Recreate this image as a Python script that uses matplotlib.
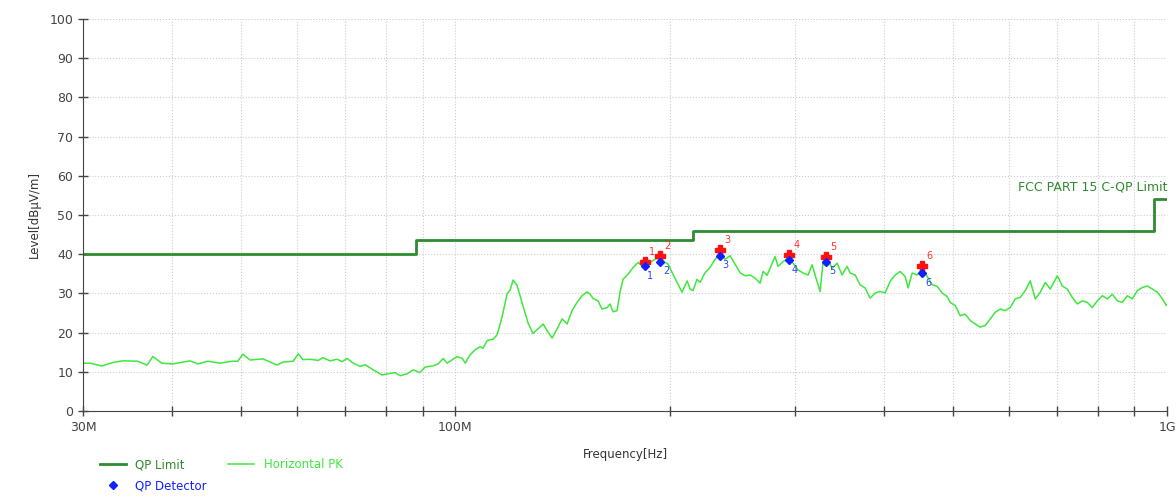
import numpy as np
import matplotlib
matplotlib.use("Agg")
import matplotlib.pyplot as plt

# QP limit (FCC Part 15 C), MHz / dBuV/m
limit_freq = [30, 88, 216, 960, 1000]
limit_level = [40, 43.5, 46, 54, 54]

# Horizontal PK trace
pk_freq = [30.0, 30.7, 31.9, 33.1, 34.1, 35.8, 36.9, 37.6, 38.7, 40.1,
           42.4, 43.5, 44.9, 46.7, 48.6, 49.5, 50.3, 51.5, 53.7, 56.2,
           57.3, 59.2, 60.2, 61.1, 62.5, 64.2, 65.2, 66.7, 68.2, 69.4,
           70.5, 71.9, 73.5, 74.7, 76.7, 78.9, 80.5, 82.3, 83.7, 85.6,
           87.3, 89.2, 90.7, 93.1, 94.6, 96.2, 97.4, 99.3, 100.6, 102.3,
           103.3, 104.9, 106.6, 108.4, 109.4, 110.9, 113.0, 114.5, 116.4, 118.3,
           119.4, 120.6, 122.1, 124.6, 126.6, 128.6, 131.6, 132.9, 134.6, 136.8,
           139.0, 141.3, 143.6, 145.9, 148.3, 150.7, 153.2, 154.7, 156.2, 158.7,
           160.8, 163.4, 165.0, 166.6, 168.8, 170.4, 172.1, 174.9, 177.8, 180.7,
           183.0, 184.8, 187.8, 190.9, 194.0, 197.1, 199.1, 201.7, 205.0, 208.3,
           211.7, 213.8, 215.8, 218.6, 220.8, 224.4, 228.0, 231.8, 235.5, 239.4,
           243.3, 247.2, 251.3, 255.3, 259.6, 263.8, 268.1, 270.7, 274.2, 276.9,
           281.4, 284.1, 288.8, 293.5, 298.3, 303.1, 308.1, 313.1, 317.2, 320.3,
           325.5, 328.7, 332.9, 338.4, 343.9, 349.5, 355.2, 358.7, 364.6, 370.5,
           376.5, 382.7, 389.0, 395.3, 401.7, 408.4, 415.0, 421.7, 428.6, 432.8,
           438.5, 445.6, 452.9, 460.2, 467.8, 475.4, 483.2, 491.0, 495.8, 504.0,
           512.2, 520.5, 529.0, 537.7, 546.4, 555.3, 564.4, 573.7, 583.0, 592.5,
           602.1, 612.0, 622.0, 632.1, 642.4, 653.0, 663.6, 674.4, 685.4, 701.2,
           712.6, 724.1, 735.9, 748.1, 760.2, 772.6, 785.2, 797.9, 811.1, 824.3,
           837.7, 851.5, 865.3, 879.4, 893.7, 908.3, 923.2, 938.3, 953.5, 969.0,
           985.0, 997.8, 1000.0]
pk_level = [12.2, 12.2, 11.5, 12.4, 12.8, 12.7, 11.7, 13.9, 12.2, 12.0,
            12.8, 12.0, 12.7, 12.2, 12.7, 12.7, 14.5, 13.0, 13.3, 11.7,
            12.5, 12.7, 14.6, 13.1, 13.2, 12.9, 13.6, 12.8, 13.2, 12.6,
            13.4, 12.2, 11.4, 11.8, 10.5, 9.2, 9.5, 9.8, 9.0, 9.5,
            10.5, 9.8, 11.2, 11.5, 12.0, 13.4, 12.2, 13.2, 13.9, 13.4,
            12.2, 14.3, 15.6, 16.4, 16.0, 18.0, 18.3, 19.4, 24.1, 30.0,
            30.8, 33.4, 32.1, 26.6, 22.4, 19.8, 21.4, 22.2, 20.5, 18.6,
            20.9, 23.5, 22.2, 25.6, 27.7, 29.4, 30.4, 29.8, 28.7, 28.1,
            26.0, 26.4, 27.3, 25.3, 25.6, 30.3, 33.6, 34.9, 36.6, 37.9,
            37.0, 38.1, 37.9, 38.7, 39.2, 37.9, 37.5, 35.3, 32.8, 30.3,
            33.2, 31.1, 30.7, 33.6, 32.8, 35.3, 36.6, 38.7, 40.0, 38.7,
            39.6, 37.5, 35.3, 34.5, 34.7, 33.9, 32.6, 35.6, 34.6, 36.4,
            39.4, 36.9, 38.1, 39.0, 37.7, 36.0, 35.2, 34.7, 37.3, 34.7,
            30.5, 38.1, 39.0, 36.4, 37.7, 34.7, 36.9, 35.2, 34.7, 32.2,
            31.4, 28.8, 30.1, 30.5, 30.1, 33.1, 34.7, 35.6, 34.3, 31.4,
            35.2, 34.7, 36.4, 34.3, 32.2, 31.8, 30.1, 29.2, 27.7, 26.9,
            24.3, 24.7, 23.1, 22.2, 21.4, 21.8, 23.5, 25.2, 26.0, 25.6,
            26.4, 28.6, 29.0, 30.7, 33.2, 28.6, 30.3, 32.8, 31.1, 34.5,
            31.9, 31.1, 29.0, 27.3, 28.1, 27.7, 26.4, 28.1, 29.4, 28.6,
            29.8, 28.1, 27.7, 29.4, 28.6, 30.7, 31.5, 31.9, 31.1, 30.3,
            28.6, 26.9, 27.2]

# markers 1..6
mk_freq = [184.5, 194.0, 235.5, 294.5, 332.0, 453.0]
mk_peak = [38.1, 39.6, 41.1, 39.8, 39.2, 36.9]
mk_qp = [36.9, 38.1, 39.6, 38.5, 38.1, 35.2]
mk_num = ["1", "2", "3", "4", "5", "6"]

xtick_vals = [30, 40, 50, 60, 70, 80, 90, 100, 200, 300, 400, 500, 600, 700, 800, 900, 1000]
xtick_text = {30: "30M", 100: "100M", 1000: "1G"}

limit_col = "#2e8b2e"
pk_col = "#3ee83e"

fig = plt.figure(figsize=(11.76, 5.0), dpi=100)
ax = fig.add_axes([0.0706, 0.178, 0.9218, 0.784])

ax.plot(limit_freq, limit_level, drawstyle="steps-post", color=limit_col, lw=2, label="QP Limit")
ax.plot(pk_freq, pk_level, color=pk_col, lw=1.1, label="Horizontal PK")
ax.plot(mk_freq, mk_peak, ls="none", marker="P", ms=6.5, color="#ff1010")
ax.plot(mk_freq, mk_qp, ls="none", marker="D", ms=4.5, color="#1020ff", label="QP Detector")

for f, p, q, n in zip(mk_freq, mk_peak, mk_qp, mk_num):
    ax.annotate(n, (f, p), xytext=(3, 5), textcoords="offset points", color="#ff3030", fontsize=7)
    ax.annotate(n, (f, q), xytext=(2, -9), textcoords="offset points", color="#3040ff", fontsize=7)

ax.text(1000, 55.5, "FCC PART 15 C-QP Limit", color=limit_col, fontsize=9, ha="right", va="bottom")

ax.set_xscale("log")
ax.set_xlim(30, 1000)
ax.set_ylim(0, 100)
ax.set_xticks(xtick_vals)
ax.set_xticklabels([xtick_text.get(v, "") for v in xtick_vals])
ax.xaxis.set_minor_locator(matplotlib.ticker.NullLocator())
ax.set_yticks(np.arange(0, 101, 10))
ax.tick_params(direction="inout", length=7, width=1, colors="#444444", labelsize=9)
ax.grid(True, color="#cccccc", ls=":", lw=0.8)
for s in ["top", "right"]:
    ax.spines[s].set_visible(False)
for s in ["left", "bottom"]:
    ax.spines[s].set_color("#444444")

ax.set_xlabel("Frequency[Hz]", fontsize=8.5, color="#333333", labelpad=10)
ax.set_ylabel("Level[dBµV/m]", fontsize=8.5, color="#333333", labelpad=6)

h, l = ax.get_legend_handles_labels()
order = [0, 2, 1]
fig.legend([h[i] for i in order], [l[i] for i in order], ncol=2, loc="upper left",
           bbox_to_anchor=(0.076, 0.105), frameon=False, fontsize=8.5,
           labelcolor="linecolor", handlelength=2.2, columnspacing=1.8,
           labelspacing=0.7)

fig.savefig("out.png", dpi=100)
